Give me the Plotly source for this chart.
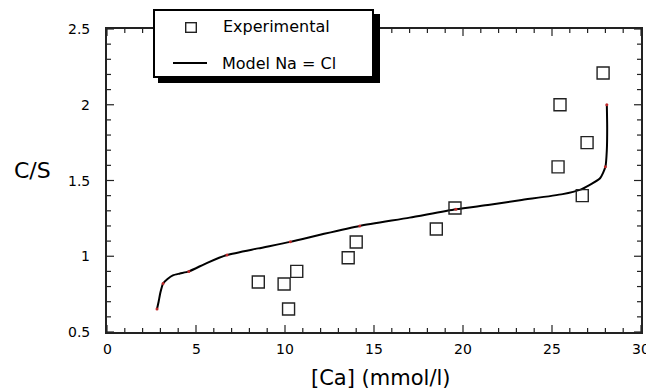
import plotly.graph_objects as go

# Experimental C/S ratios against calcium concentration
exp_ca = [8.5, 9.95, 10.2, 10.66, 13.55, 14.0, 18.5, 19.55, 25.34, 25.45, 26.7, 26.97, 27.87]
exp_cs = [0.83, 0.817, 0.652, 0.90, 0.99, 1.094, 1.18, 1.318, 1.59, 2.0, 1.40, 1.75, 2.21]

# Model curve (Na = Cl)
model_ca = [2.81, 2.9, 3.0, 3.15, 3.4, 3.7, 4.1, 4.6, 5.6, 6.74, 8.5, 10.3, 12.2, 14.2,
            17.0, 19.6, 21.5, 23.2, 25.6, 26.6, 27.1, 27.7, 28.0, 28.08, 28.1, 28.08]
model_cs = [0.652, 0.70, 0.76, 0.82, 0.85, 0.874, 0.886, 0.90, 0.955, 1.008, 1.052, 1.095,
            1.148, 1.20, 1.255, 1.31, 1.34, 1.37, 1.41, 1.44, 1.47, 1.515, 1.59, 1.70, 1.85, 2.0]

# Computed model nodes
node_ca = [2.81, 3.15, 4.6, 6.74, 10.3, 14.2, 19.6, 28.0, 28.08]
node_cs = [0.652, 0.82, 0.90, 1.008, 1.095, 1.20, 1.31, 1.59, 2.0]

x_ticks = [0, 5, 10, 15, 20, 25, 30]
x_ticktext = ["0", "5", "10", "15", "20", "25", "30"]
y_ticks = [0.5, 1, 1.5, 2, 2.5]
y_ticktext = ["0.5", "1", "1.5", "2", "2.5"]
x_minor = [i for i in range(31)]
y_minor = [round(0.5 + 0.1 * i, 2) for i in range(21)]

X_RANGE = [0, 30]
Y_RANGE = [0.5, 2.5]

FONT = "DejaVu Sans, Liberation Sans, sans-serif"
INK = "#222222"
W, H = 646, 392
L, R, T, B = 107, 5, 29, 60
PW, PH = W - L - R, H - T - B
MAJOR_LEN, MINOR_LEN = 7, 4

# pixel lengths expressed in axis units
X_PER_PX = (X_RANGE[1] - X_RANGE[0]) / PW
Y_PER_PX = (Y_RANGE[1] - Y_RANGE[0]) / PH


def px(x):
    return (x - L) / PW


def py(y):
    return (H - B - y) / PH


fig = go.Figure()

# inward tick marks on all four sides of the frame
tx, ty = [], []
for v in x_minor:
    n = (MAJOR_LEN if v in x_ticks else MINOR_LEN) * Y_PER_PX
    tx += [v, v, None, v, v, None]
    ty += [Y_RANGE[0], Y_RANGE[0] + n, None, Y_RANGE[1], Y_RANGE[1] - n, None]
for v in y_minor:
    n = (MAJOR_LEN if v in y_ticks else MINOR_LEN) * X_PER_PX
    tx += [X_RANGE[0], X_RANGE[0] + n, None, X_RANGE[1], X_RANGE[1] - n, None]
    ty += [v, v, None, v, v, None]
fig.add_trace(go.Scatter(x=tx, y=ty, mode="lines", line=dict(color=INK, width=1.2),
                         cliponaxis=False, showlegend=False, hoverinfo="skip"))

fig.add_trace(go.Scatter(
    x=model_ca, y=model_cs, mode="lines",
    line=dict(color="black", width=2, shape="spline", smoothing=0.6),
    showlegend=False, hoverinfo="skip"))
fig.add_trace(go.Scatter(
    x=node_ca, y=node_cs, mode="markers",
    marker=dict(color="#c0282a", size=3),
    showlegend=False, hoverinfo="skip"))
fig.add_trace(go.Scatter(
    x=exp_ca, y=exp_cs, mode="markers",
    marker=dict(symbol="square-open", size=12, color=INK, line=dict(width=1.4)),
    showlegend=False, hoverinfo="skip"))

axis_base = dict(showgrid=False, zeroline=False, showticklabels=False, ticks="",
                 showline=True, mirror=True, linecolor=INK, linewidth=1.5)
fig.update_xaxes(range=X_RANGE, **axis_base)
fig.update_yaxes(range=Y_RANGE, **axis_base)

annotations = []
for v, t in zip(x_ticks, x_ticktext):
    annotations.append(dict(text=t, xref="x", yref="paper", x=v, y=py(349),
                            xanchor="center", yanchor="middle", showarrow=False,
                            font=dict(family=FONT, size=14, color="black")))
for v, t in zip(y_ticks, y_ticktext):
    annotations.append(dict(text=t, xref="paper", yref="y", x=px(92), y=v,
                            xanchor="right", yanchor="middle", showarrow=False,
                            font=dict(family=FONT, size=14, color="black")))


def box(left, top, w, h, bg, border=None, bw=0):
    """A plain rectangle placed in page pixels, built from an empty text box."""
    return dict(text=" ", xref="paper", yref="paper", x=px(left), y=py(top),
                xanchor="left", yanchor="top", showarrow=False,
                width=w, height=h, bgcolor=bg, borderpad=0,
                bordercolor=border or "rgba(0,0,0,0)", borderwidth=bw,
                font=dict(size=1))


# Legend panel: drop shadow, framed white box, symbol samples and labels
annotations += [
    box(158, 14, 222, 69, "black"),
    box(153, 9, 217, 65, "white", "black", 2),
    box(185, 22, 9, 8, "rgba(0,0,0,0)", INK, 1.4),
    box(173, 62, 34, 2, "black"),
    dict(text="Experimental", xref="paper", yref="paper", x=px(221), y=py(27),
         xanchor="left", yanchor="middle", showarrow=False,
         font=dict(family=FONT, size=16, color="black")),
    dict(text="Model Na = Cl", xref="paper", yref="paper", x=px(220), y=py(63),
         xanchor="left", yanchor="middle", showarrow=False,
         font=dict(family=FONT, size=16, color="black")),
    dict(text="C/S", xref="paper", yref="paper", x=px(32), y=py(170),
         xanchor="center", yanchor="middle", showarrow=False,
         font=dict(family=FONT, size=22, color="black")),
    dict(text="[Ca] (mmol/l)", xref="paper", yref="paper", x=px(380), y=py(378),
         xanchor="center", yanchor="middle", showarrow=False,
         font=dict(family=FONT, size=21, color="black")),
]

fig.update_layout(
    width=W, height=H, margin=dict(l=L, r=R, t=T, b=B, autoexpand=False),
    paper_bgcolor="white", plot_bgcolor="white",
    annotations=annotations, showlegend=False,
)

fig.write_html("out.html")
